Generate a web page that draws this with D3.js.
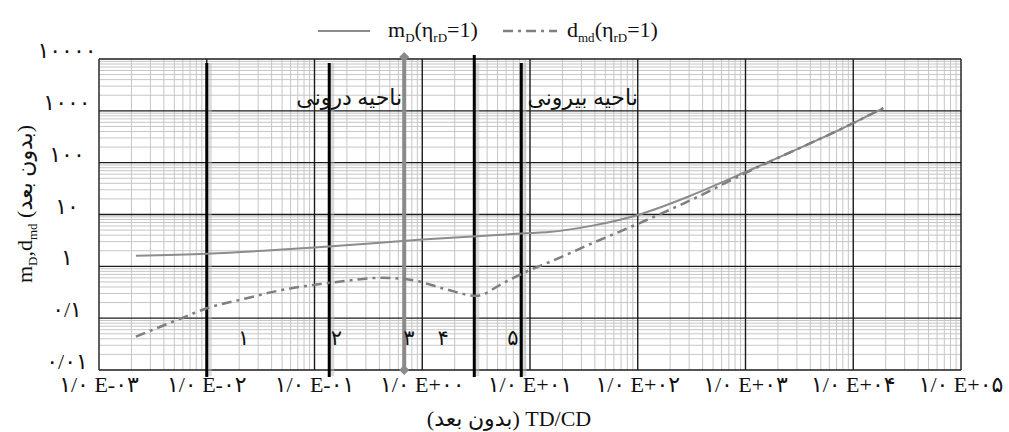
<!DOCTYPE html>
<html lang="fa">
<head>
  <meta charset="utf-8">
  <title>mD and dmd vs TD/CD</title>
  <script src="https://d3js.org/d3.v7.min.js"></script>
  <style>
    body { margin: 0; background: #fff; }
    svg text { font-family: "Liberation Serif", "DejaVu Sans", serif; fill: #111; }
  </style>
</head>
<body>
<svg id="chart" width="1009" height="432"></svg>
<script>

/* data */
var xTicks = [1e-3, 1e-2, 1e-1, 1, 10, 100, 1e3, 1e4, 1e5];
var xTickLabels = ["۱/۰ E-۰۳", "۱/۰ E-۰۲", "۱/۰ E-۰۱", "۱/۰ E+۰۰", "۱/۰ E+۰۱",
                   "۱/۰ E+۰۲", "۱/۰ E+۰۳", "۱/۰ E+۰۴", "۱/۰ E+۰۵"];
var yTicks = [0.01, 0.1, 1, 10, 100, 1000, 10000];
var yTickLabels = ["۰/۰۱", "۰/۱", "۱", "۱۰", "۱۰۰", "۱۰۰۰", "۱۰۰۰۰"];

var tdcdM = [0.0022, 0.01, 0.1, 1, 10, 15, 38, 100, 300, 1000, 10000, 19000];
var mD    = [1.6, 1.75, 2.3, 3.3, 4.4, 4.6, 6.1, 9.8, 22.5, 66, 580, 1130];

var tdcdD = [0.0022, 0.0055, 0.01, 0.023, 0.05, 0.1, 0.19, 0.4, 0.77, 1.6, 3.15,
             5.9, 10, 15, 38, 100, 300, 1000, 10000, 19000];
var dmd   = [0.044, 0.095, 0.155, 0.24, 0.35, 0.44, 0.52, 0.6, 0.55, 0.37, 0.27,
             0.5, 0.85, 1.2, 2.8, 6.6, 18.3, 63, 580, 1130];

/* region boundaries (thick black lines) and the grey arrow */
var boundaries = [0.01, 0.137, 3.04, 8.3];
var arrowAt = 0.68;
var regionNums = ["۱", "۲", "۳", "۴", "۵"];
var regionNumX = [0.022, 0.16, 0.75, 1.56, 6.95];
var regionNumY = 0.03;

var svg = d3.select("#chart"),
    margin = {top: 59, right: 48, bottom: 62, left: 99},
    width = +svg.attr("width"),
    height = +svg.attr("height");

var x = d3.scaleLog().domain([1e-3, 1e5]).range([margin.left, width - margin.right]);
var y = d3.scaleLog().domain([0.01, 1e4]).range([height - margin.bottom, margin.top]);

/* minor grid */
var minorX = [], minorY = [];
for (var e = -3; e < 5; e++) for (var k = 2; k < 10; k++) minorX.push(k * Math.pow(10, e));
for (var e2 = -2; e2 < 4; e2++) for (var k2 = 2; k2 < 10; k2++) minorY.push(k2 * Math.pow(10, e2));

var grid = svg.append("g").attr("class", "grid");
grid.selectAll("line.mx").data(minorX).enter().append("line")
    .attr("x1", function(d) { return x(d); }).attr("x2", function(d) { return x(d); })
    .attr("y1", y(0.01)).attr("y2", y(1e4))
    .attr("stroke", "#c6c6c6").attr("stroke-width", 1);
grid.selectAll("line.my").data(minorY).enter().append("line")
    .attr("y1", function(d) { return y(d); }).attr("y2", function(d) { return y(d); })
    .attr("x1", x(1e-3)).attr("x2", x(1e5))
    .attr("stroke", "#c6c6c6").attr("stroke-width", 1);

/* major grid */
grid.selectAll("line.MX").data(xTicks).enter().append("line")
    .attr("x1", function(d) { return x(d); }).attr("x2", function(d) { return x(d); })
    .attr("y1", y(0.01)).attr("y2", y(1e4))
    .attr("stroke", "#1b1b1b").attr("stroke-width", 1.4);
grid.selectAll("line.MY").data(yTicks).enter().append("line")
    .attr("y1", function(d) { return y(d); }).attr("y2", function(d) { return y(d); })
    .attr("x1", x(1e-3)).attr("x2", x(1e5))
    .attr("stroke", "#1b1b1b").attr("stroke-width", 1.4);

/* tick labels */
svg.append("g").selectAll("text").data(xTicks).enter().append("text")
    .attr("x", function(d) { return x(d); })
    .attr("y", y(0.01) + 22)
    .attr("text-anchor", "middle")
    .style("font-size", "22px")
    .text(function(d, i) { return xTickLabels[i]; });

svg.append("g").selectAll("text").data(yTicks).enter().append("text")
    .attr("x", 67)
    .attr("y", function(d) { return y(d) - 1; })
    .attr("text-anchor", "middle")
    .style("font-size", "22px")
    .text(function(d, i) { return yTickLabels[i]; });

/* region lines */
var marks = svg.append("g");
marks.selectAll("line.shadow").data(boundaries).enter().append("line")
    .attr("x1", function(d) { return x(d) + 3; }).attr("x2", function(d) { return x(d) + 3; })
    .attr("y1", y(1e4) + 4).attr("y2", y(0.01) + 6)
    .attr("stroke", "#bbb").attr("stroke-width", 4).attr("opacity", 0.5);
marks.selectAll("line.b").data(boundaries).enter().append("line")
    .attr("x1", function(d) { return x(d); }).attr("x2", function(d) { return x(d); })
    .attr("y1", function(d, i) { return i == 2 ? y(1e4) - 4 : y(1e4) + 4; })
    .attr("y2", y(0.01) + 7)
    .attr("stroke", "#000").attr("stroke-width", 3);

/* grey arrow */
marks.append("line")
    .attr("x1", x(arrowAt)).attr("x2", x(arrowAt))
    .attr("y1", y(1e4) - 2).attr("y2", y(0.01))
    .attr("stroke", "#8a8a8a").attr("stroke-width", 4);
marks.selectAll("path.dia").data([y(1e4) - 2, y(0.01)]).enter().append("path")
    .attr("d", function(d) { var cx = x(arrowAt); return "M" + (cx - 5) + "," + d + "L" + cx + "," + (d - 5) + "L" + (cx + 5) + "," + d + "L" + cx + "," + (d + 5) + "Z"; })
    .attr("fill", "#8a8a8a");

/* curves */
var line = d3.line()
    .x(function(d) { return x(d[0]); })
    .y(function(d) { return y(d[1]); })
    .curve(d3.curveMonotoneX);

svg.append("path")
    .datum(d3.zip(tdcdM, mD))
    .attr("d", line)
    .attr("fill", "none").attr("stroke", "#8c8c8c").attr("stroke-width", 2);

svg.append("path")
    .datum(d3.zip(tdcdD, dmd))
    .attr("d", line)
    .attr("fill", "none").attr("stroke", "#7f7f7f").attr("stroke-width", 2.5)
    .attr("stroke-dasharray", "10,5,3,5");

/* region texts */
svg.append("text")
    .attr("x", x(arrowAt) - 2).attr("y", 105)
    .attr("text-anchor", "end")
    .style("font-size", "22px")
    .text("ناحیه درونی");
svg.append("text")
    .attr("x", x(100)).attr("y", 105)
    .attr("text-anchor", "end")
    .style("font-size", "22px")
    .text("ناحیه بیرونی");

svg.append("g").selectAll("text").data(regionNumX).enter().append("text")
    .attr("x", function(d) { return x(d); })
    .attr("y", y(regionNumY))
    .attr("text-anchor", "middle")
    .style("font-size", "21px")
    .text(function(d, i) { return regionNums[i]; });

/* legend */
var lg = svg.append("g");
lg.append("line").attr("x1", 318).attr("x2", 370).attr("y1", 31).attr("y2", 31)
    .attr("stroke", "#8c8c8c").attr("stroke-width", 2);
var t1 = lg.append("text").attr("x", 388).attr("y", 37).style("font-size", "22px");
t1.append("tspan").text("m");
t1.append("tspan").attr("dy", 5).style("font-size", "13px").text("D");
t1.append("tspan").attr("dy", -5).text("(η");
t1.append("tspan").attr("dy", 5).style("font-size", "13px").text("rD");
t1.append("tspan").attr("dy", -5).text("=1)");

lg.append("line").attr("x1", 503).attr("x2", 557).attr("y1", 31).attr("y2", 31)
    .attr("stroke", "#7f7f7f").attr("stroke-width", 2.5).attr("stroke-dasharray", "10,5,3,5");
var t2 = lg.append("text").attr("x", 567).attr("y", 37).style("font-size", "22px");
t2.append("tspan").text("d");
t2.append("tspan").attr("dy", 5).style("font-size", "13px").text("md");
t2.append("tspan").attr("dy", -5).text("(η");
t2.append("tspan").attr("dy", 5).style("font-size", "13px").text("rD");
t2.append("tspan").attr("dy", -5).text("=1)");

/* axis titles */
svg.append("text")
    .attr("x", 509).attr("y", 426)
    .attr("text-anchor", "middle")
    .style("font-size", "22px")
    .text("(بدون بعد) TD/CD");

var yt = svg.append("text")
    .attr("transform", "translate(32,204) rotate(-90)")
    .attr("text-anchor", "middle")
    .style("font-size", "22px");
yt.append("tspan").text("m");
yt.append("tspan").attr("dy", 5).style("font-size", "13px").text("D");
yt.append("tspan").attr("dy", -5).text(",d");
yt.append("tspan").attr("dy", 5).style("font-size", "13px").text("md");
yt.append("tspan").attr("dy", -5).text(" (بدون بعد)");

</script>
</body>
</html>
